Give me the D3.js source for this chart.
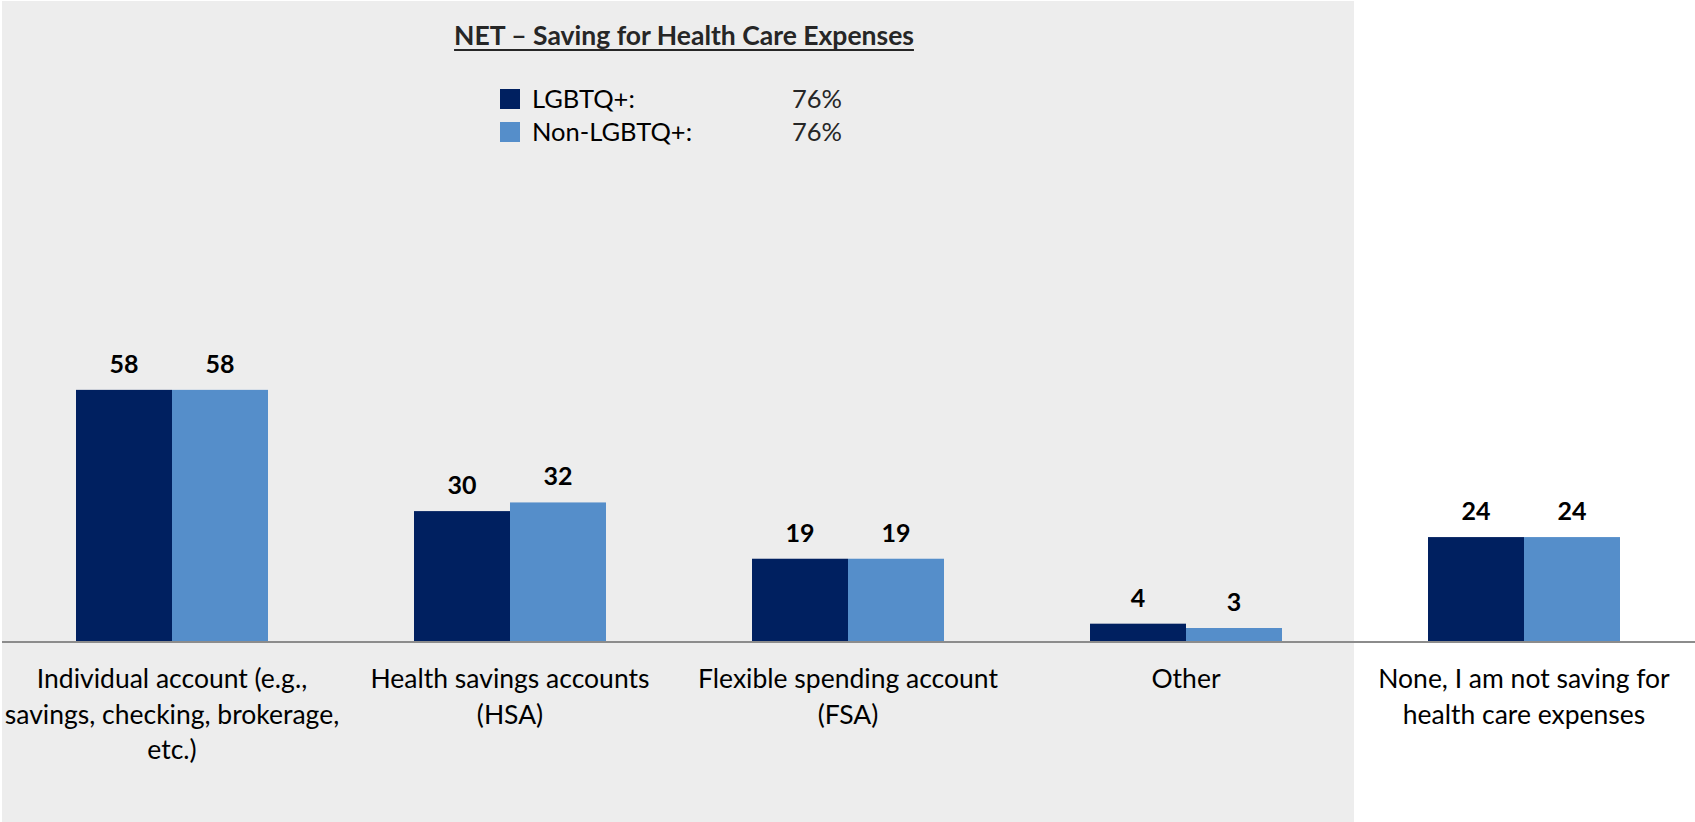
<!DOCTYPE html>
<html>
<head>
<meta charset="utf-8">
<script src="https://cdn.jsdelivr.net/npm/d3@7"></script>
<style>
  html, body { margin: 0; padding: 0; background: #ffffff; }
  svg { display: block; }
  text { font-family: Lato, "Open Sans", sans-serif; }
</style>
</head>
<body>
<svg id="chart" width="1695" height="822"></svg>
<script>
// Answer categories (each label split into its display lines)
const categories = [
  ["Individual account (e.g.,", "savings, checking, brokerage,", "etc.)"],
  ["Health savings accounts", "(HSA)"],
  ["Flexible spending account", "(FSA)"],
  ["Other"],
  ["None, I am not saving for", "health care expenses"]
];
const seriesNames = ["LGBTQ+", "Non-LGBTQ+"];
const lgbtqValues = [58, 30, 19, 4, 24];
const nonLgbtqValues = [58, 32, 19, 3, 24];
const netLabels = ["76%", "76%"];
const titleText = "NET \u2013 Saving for Health Care Expenses";

const colors = ["#002060", "#558ECA"];

const W = 1695, H = 822;
const svg = d3.select("#chart");

// Shaded panel behind the "saving" categories
svg.append("rect")
  .attr("x", 2).attr("y", 1)
  .attr("width", 1352).attr("height", H - 1)
  .attr("fill", "#EDEDED");

const x = d3.scaleBand()
  .domain(d3.range(categories.length))
  .range([3, 1693])
  .paddingInner(0.432)
  .paddingOuter(0.216);

const xInner = d3.scaleBand()
  .domain(d3.range(seriesNames.length))
  .range([0, x.bandwidth()])
  .padding(0);

const y = d3.scaleLinear().domain([0, 100]).range([641, 208]);

const rows = categories.map((c, i) => ({
  i,
  lines: c,
  values: [lgbtqValues[i], nonLgbtqValues[i]]
}));

const groups = svg.append("g").selectAll("g")
  .data(rows)
  .join("g")
  .attr("transform", d => `translate(${x(d.i)},0)`);

groups.selectAll("rect")
  .data(d => d.values.map((v, s) => ({ v, s })))
  .join("rect")
  .attr("x", d => xInner(d.s))
  .attr("y", d => y(d.v))
  .attr("width", xInner.bandwidth())
  .attr("height", d => y(0) - y(d.v))
  .attr("fill", d => colors[d.s]);

groups.selectAll("text.val")
  .data(d => d.values.map((v, s) => ({ v, s })))
  .join("text")
  .attr("class", "val")
  .attr("x", d => xInner(d.s) + xInner.bandwidth() / 2)
  .attr("y", d => y(d.v) - 17)
  .attr("text-anchor", "middle")
  .attr("font-size", 25)
  .attr("font-weight", 700)
  .attr("fill", "#000")
  .text(d => d.v);

// Category axis along the baseline
const axis = svg.append("g").attr("transform", `translate(0,${y(0)})`);
axis.append("line")
  .attr("x1", 2).attr("x2", W)
  .attr("y1", 1).attr("y2", 1)
  .attr("stroke", "#8C8C8C").attr("stroke-width", 2);

groups.append("text")
  .attr("class", "cat")
  .attr("x", x.bandwidth() / 2)
  .attr("y", 688)
  .attr("text-anchor", "middle")
  .attr("font-size", 26.5)
  .attr("fill", "#000")
  .selectAll("tspan")
  .data(d => d.lines)
  .join("tspan")
  .attr("x", x.bandwidth() / 2)
  .attr("dy", (d, k) => k === 0 ? 0 : 35.5)
  .text(d => d);

// Title (underlined)
const title = svg.append("text")
  .attr("x", 684).attr("y", 45)
  .attr("text-anchor", "middle")
  .attr("font-size", 26.5)
  .attr("font-weight", 700)
  .attr("fill", "#262626")
  .text(titleText);
const tb = title.node().getBBox();
svg.append("line")
  .attr("x1", tb.x).attr("x2", tb.x + tb.width)
  .attr("y1", 50).attr("y2", 50)
  .attr("stroke", "#262626").attr("stroke-width", 2);

// Legend with NET values
const legend = svg.append("g").selectAll("g")
  .data(seriesNames)
  .join("g")
  .attr("transform", (d, i) => `translate(500,${89 + i * 33})`);
legend.append("rect")
  .attr("width", 20).attr("height", 20)
  .attr("fill", (d, i) => colors[i]);
legend.append("text")
  .attr("x", 32).attr("y", 19)
  .attr("font-size", 25.5)
  .attr("fill", "#000")
  .text(d => d + ":");
legend.append("text")
  .attr("x", 292).attr("y", 19)
  .attr("font-size", 25.5)
  .attr("fill", "#262626")
  .text((d, i) => netLabels[i]);
</script>
</body>
</html>
